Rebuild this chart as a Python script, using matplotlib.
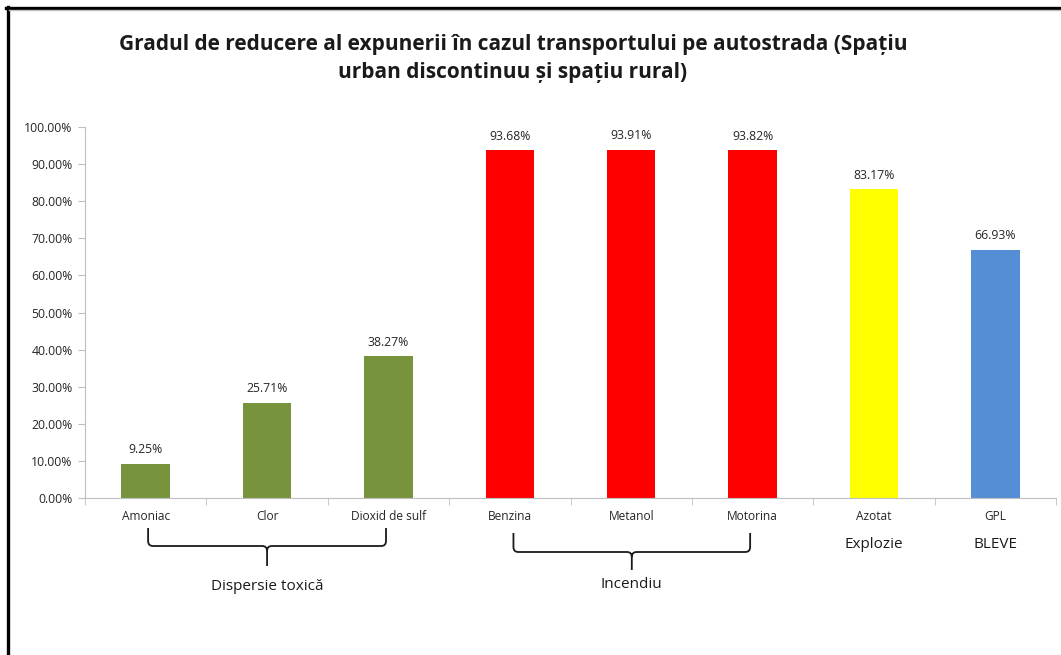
import numpy as np
import matplotlib
matplotlib.use("Agg")
import matplotlib.pyplot as plt
import matplotlib.transforms as mtrans
from matplotlib.path import Path
from matplotlib.patches import PathPatch
from matplotlib.lines import Line2D

# Data
categories = ["Amoniac", "Clor", "Dioxid de sulf", "Benzina", "Metanol",
              "Motorina", "Azotat", "GPL"]
values = [9.25, 25.71, 38.27, 93.68, 93.91, 93.82, 83.17, 66.93]
colors = ["#77933C", "#77933C", "#77933C", "#FF0000", "#FF0000", "#FF0000",
          "#FFFF00", "#558ED5"]
group_labels = ["Dispersie toxică", "Incendiu", "Explozie", "BLEVE"]
title = ("Gradul de reducere al expunerii în cazul transportului pe autostrada (Spațiu\n"
         "urban discontinuu și spațiu rural)")

plt.rcParams['font.family'] = ['Open Sans', 'DejaVu Sans']

W, H = 1061, 655
fig = plt.figure(figsize=(W / 100, H / 100), dpi=100)
ax = fig.add_axes([85 / W, 1 - 498 / H, 971 / W, 371 / H])

x = np.arange(len(categories))
ax.bar(x, values, width=0.4, color=colors, zorder=2)
for xi, v in zip(x, values):
    ax.text(xi, v + 2.0, f"{v:.2f}%", ha="center", va="bottom",
            fontsize=8.8, color="#262626")

ax.set_xlim(-0.5, len(categories) - 0.5)
ax.set_ylim(0, 100)
ax.set_yticks(np.arange(0, 101, 10))
ax.set_yticklabels([f"{t:.2f}%" for t in np.arange(0, 101, 10)],
                   fontsize=8.8, color="#262626")
ax.set_xticks(x)
ax.set_xticklabels(categories, fontsize=8.6, color="#262626")
ax.set_xticks(np.arange(-0.5, len(categories), 1), minor=True)
ax.tick_params(axis="x", which="major", length=0, pad=9)
ax.tick_params(axis="x", which="minor", length=5, color="#BFBFBF", direction="out")
ax.tick_params(axis="y", length=5, color="#BFBFBF", pad=4)
for s in ["top", "right"]:
    ax.spines[s].set_visible(False)
ax.spines["left"].set_color("#BFBFBF")
ax.spines["bottom"].set_color("#BFBFBF")

# Group braces and labels
tr = mtrans.blended_transform_factory(ax.transData, fig.transFigure)


def fy(py):
    return 1 - py / H


def brace(x0, x1, top, bot, tip, r=0.04, ry=5):
    xm = (x0 + x1) / 2
    verts = [
        (x0, fy(top)), (x0, fy(bot - ry)),
        (x0, fy(bot)), (x0 + r, fy(bot)),
        (xm - r, fy(bot)),
        (xm, fy(bot)), (xm, fy(bot + ry)),
        (xm, fy(tip)),
        (xm, fy(bot + ry)),
        (xm, fy(bot)), (xm + r, fy(bot)),
        (x1 - r, fy(bot)),
        (x1, fy(bot)), (x1, fy(bot - ry)),
        (x1, fy(top)),
    ]
    codes = [Path.MOVETO, Path.LINETO,
             Path.CURVE3, Path.CURVE3,
             Path.LINETO,
             Path.CURVE3, Path.CURVE3,
             Path.LINETO,
             Path.MOVETO,
             Path.CURVE3, Path.CURVE3,
             Path.LINETO,
             Path.CURVE3, Path.CURVE3,
             Path.LINETO]
    p = PathPatch(Path(verts, codes), fill=False, lw=1.3, ec="#1a1a1a",
                  transform=tr, clip_on=False)
    fig.add_artist(p)


brace(0.02, 1.98, 528, 546, 566)
brace(3.03, 4.98, 533, 552, 570)

ax.text(1, fy(587), group_labels[0], transform=tr, ha="center", va="center",
        fontsize=11, color="#1a1a1a")
ax.text(4, fy(585), group_labels[1], transform=tr, ha="center", va="center",
        fontsize=11, color="#1a1a1a")
ax.text(6, fy(544), group_labels[2], transform=tr, ha="center", va="center",
        fontsize=11, color="#1a1a1a")
ax.text(7, fy(544), group_labels[3], transform=tr, ha="center", va="center",
        fontsize=11, color="#1a1a1a")

# Title
fig.text(513 / W, fy(58.5), title, ha="center", va="center", fontsize=15,
         fontweight="bold", color="#1a1a1a", linespacing=1.4)

# Frame (left and top edges)
fig.add_artist(Line2D([7.5 / W, 7.5 / W], [0, fy(7)], transform=fig.transFigure,
                      color="black", lw=2.4))
fig.add_artist(Line2D([6.3 / W, 1], [fy(7.5), fy(7.5)], transform=fig.transFigure,
                      color="black", lw=2.4))
fig.add_artist(Line2D([9 / W, 1], [fy(10), fy(10)], transform=fig.transFigure,
                      color="#BFBFBF", lw=1))

fig.savefig("out.png", dpi=100)
